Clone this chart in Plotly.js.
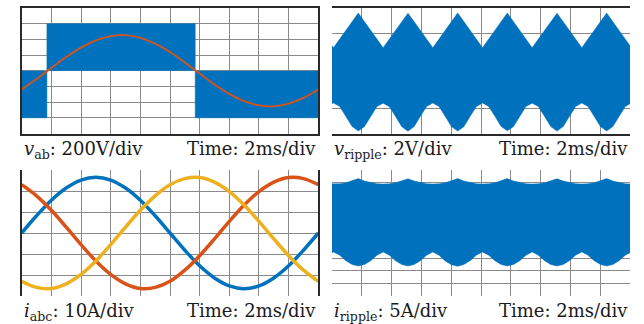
<!DOCTYPE html>
<html>
<head>
<meta charset="utf-8">
<script src="https://cdn.plot.ly/plotly-3.0.1.min.js"></script>
<style>html,body{margin:0;padding:0;background:#fff;}#chart{width:644px;height:324px;}</style>
</head>
<body>
<div id="chart"></div>
<script>
// ---- data (time in ms) ----
const timeMs = [0,1,2,3,4,5,6,7,8,9,10,11,12,13,14,15,16,17,18,19,20];

// top-left: PWM line voltage (switch instants and levels, V) and its fundamental (V)
const pwmEdgesMs = [0, 1.7, 11.7, 20];
const pwmLevelsV = [-600, 600, -600, -600];
const vabFund = [-238,-106,36,174,295,388,442,454,420,346,238,106,-36,-174,-295,-388,-442,-454,-420,-346,-238];

// bottom-left: phase currents (A)
const iA = [0,8.2,15.6,21.4,25.2,26.5,25.2,21.4,15.6,8.2,0,-8.2,-15.6,-21.4,-25.2,-26.5,-25.2,-21.4,-15.6,-8.2,0];
const iB = [23.0,17.7,10.8,2.8,-5.5,-13.3,-19.7,-24.2,-26.4,-25.9,-23.0,-17.7,-10.8,-2.8,5.5,13.3,19.7,24.2,26.4,25.9,23.0];
const iC = [-23.0,-25.9,-26.4,-24.2,-19.7,-13.3,-5.5,2.8,10.8,17.7,23.0,25.9,26.4,24.2,19.7,13.3,5.5,-2.8,-10.8,-17.7,-23.0];

// ripple envelopes, sampled from RIP_T0 every RIP_DT ms
const RIP_T0 = -0.3167, RIP_DT = 0.41667;
const vRipTop = [2.52,
 1.83,2.52,3.22,3.91,4.60,3.91,3.22,2.52,
 1.84,2.53,3.22,3.90,4.58,3.90,3.21,2.52,
 1.83,2.52,3.23,3.92,4.61,3.92,3.22,2.53,
 1.84,2.52,3.22,3.91,4.60,3.91,3.22,2.52,
 1.83,2.52,3.21,3.90,4.58,3.90,3.22,2.52,
 1.84,2.53,3.22,3.91,4.60,3.91,3.22,2.52,
 1.83];
const vRipBot = [-2.85,
 -2.57,-2.85,-3.64,-4.45,-4.80,-4.45,-3.64,-2.85,
 -2.58,-2.86,-3.65,-4.46,-4.82,-4.45,-3.63,-2.85,
 -2.57,-2.85,-3.64,-4.45,-4.80,-4.46,-3.64,-2.86,
 -2.57,-2.84,-3.63,-4.44,-4.79,-4.45,-3.64,-2.85,
 -2.58,-2.85,-3.64,-4.45,-4.81,-4.45,-3.65,-2.85,
 -2.57,-2.85,-3.64,-4.45,-4.80,-4.45,-3.64,-2.85,
 -2.57];
const iRipTop = [19.5,
 19.4,19.5,19.9,20.6,21.6,20.6,19.9,19.5,
 19.4,19.5,19.9,20.6,21.5,20.6,19.9,19.5,
 19.4,19.5,19.9,20.7,21.6,20.6,19.9,19.5,
 19.4,19.5,19.9,20.6,21.6,20.6,19.9,19.5,
 19.4,19.5,19.9,20.6,21.5,20.6,19.9,19.5,
 19.4,19.5,19.9,20.6,21.6,20.6,19.9,19.5,
 19.4];
const iRipBot = [-8.8,
 -7.5,-8.8,-11.0,-12.5,-13.1,-12.5,-11.0,-8.8,
 -7.5,-8.8,-11.0,-12.5,-13.1,-12.5,-11.0,-8.8,
 -7.5,-8.8,-11.1,-12.6,-13.2,-12.5,-11.0,-8.8,
 -7.5,-8.8,-11.0,-12.5,-13.1,-12.5,-11.0,-8.8,
 -7.5,-8.8,-11.0,-12.5,-13.1,-12.5,-11.0,-8.8,
 -7.5,-8.8,-11.0,-12.5,-13.1,-12.5,-11.0,-8.8,
 -7.5];
const ripT = vRipTop.map((_, i) => RIP_T0 + i * RIP_DT);

const leftLabels = ['<i>v</i><sub>ab</sub>: 200V/div', '<i>v</i><sub>ripple</sub>: 2V/div',
                    '<i>i</i><sub>abc</sub>: 10A/div', '<i>i</i><sub>ripple</sub>: 5A/div'];
const timeLabel = 'Time: 2ms/div';

// ---- styles ----
const BLUE = 'rgb(0,114,189)', ORANGE = 'rgb(217,83,25)', YELLOW = 'rgb(237,177,32)', GREEN = 'rgb(0,210,0)';

const traces = [
  {x: pwmEdgesMs, y: pwmLevelsV, xaxis:'x', yaxis:'y', mode:'lines', line:{shape:'hv', color:BLUE, width:0.5}, fill:'tozeroy', fillcolor:BLUE},
  {x: timeMs, y: vabFund, xaxis:'x', yaxis:'y', mode:'lines', line:{shape:'spline', color:ORANGE, width:1.8}},
  {x: ripT, y: vRipTop, xaxis:'x2', yaxis:'y2', mode:'lines', line:{color:BLUE, width:0.5}},
  {x: ripT, y: vRipBot, xaxis:'x2', yaxis:'y2', mode:'lines', line:{color:BLUE, width:0.5}, fill:'tonexty', fillcolor:BLUE},
  {x: timeMs, y: iA, xaxis:'x3', yaxis:'y3', mode:'lines', line:{shape:'spline', color:BLUE, width:3.5}},
  {x: timeMs, y: iB, xaxis:'x3', yaxis:'y3', mode:'lines', line:{shape:'spline', color:ORANGE, width:3.5}},
  {x: timeMs, y: iC, xaxis:'x3', yaxis:'y3', mode:'lines', line:{shape:'spline', color:YELLOW, width:3.5}},
  {x: ripT, y: iRipTop, xaxis:'x4', yaxis:'y4', mode:'lines', line:{color:BLUE, width:0.5}},
  {x: ripT, y: iRipBot, xaxis:'x4', yaxis:'y4', mode:'lines', line:{color:BLUE, width:0.5}, fill:'tonexty', fillcolor:BLUE}
];
['','2','3','4'].forEach(s => traces.push({x:[-0.3], y:[0], xaxis:'x'+s, yaxis:'y'+s, mode:'markers', cliponaxis:false,
  marker:{symbol:'triangle-right', size:10, color:GREEN}}));
traces.forEach(t => { t.showlegend = false; t.hoverinfo = 'skip'; });

const W = 644, H = 324;
const colX = [[21.7, 318.3], [332, 630]];
const rowY = [[8, 133.5], [170, 296]];
function xd(c){ return [colX[c][0]/W, colX[c][1]/W]; }
function yd(r){ return [1 - rowY[r][1]/H, 1 - rowY[r][0]/H]; }

function xax(c){ return {domain:xd(c), range:[0,20], dtick:2, tick0:0, showgrid:true, gridcolor:'#8a8a8a', gridwidth:1,
  zeroline:false, showticklabels:false, ticks:'', showline:true, mirror:true, linecolor:'#2a2a2a', linewidth:2, fixedrange:true}; }
function yax(r, range, dtick, tick0){ return {domain:yd(r), range:range, dtick:dtick, tick0:tick0, showgrid:true, gridcolor:'#8a8a8a', gridwidth:1,
  zeroline:false, showticklabels:false, ticks:'', showline:true, mirror:true, linecolor:'#2a2a2a', linewidth:2, fixedrange:true}; }

const font = {family:'DejaVu Serif', size:18, color:'#1a1a1a'};
const annotations = [];
['','2','3','4'].forEach((s, k) => {
  annotations.push({xref:'x'+s+' domain', yref:'y'+s+' domain', x:0, y:0, xanchor:'left', yanchor:'top', yshift:-2,
    text:leftLabels[k], showarrow:false, font:font});
  annotations.push({xref:'x'+s+' domain', yref:'y'+s+' domain', x:1, y:0, xanchor:'right', yanchor:'top', yshift:-2,
    text:timeLabel, showarrow:false, font:font});
});

const layout = {
  width:W, height:H, margin:{l:0,r:0,t:0,b:0}, paper_bgcolor:'#fff', plot_bgcolor:'#fff', showlegend:false,
  xaxis:xax(0), yaxis:yax(0,[-800,800],200,0),
  xaxis2:xax(1), yaxis2:yax(0,[-5,5],2,1),
  xaxis3:xax(0), yaxis3:yax(1,[-30,30],10,0),
  xaxis4:xax(1), yaxis4:yax(1,[-25,25],5,0),
  annotations:annotations
};
Plotly.newPlot('chart', traces, layout, {displayModeBar:false});
</script>
</body>
</html>
